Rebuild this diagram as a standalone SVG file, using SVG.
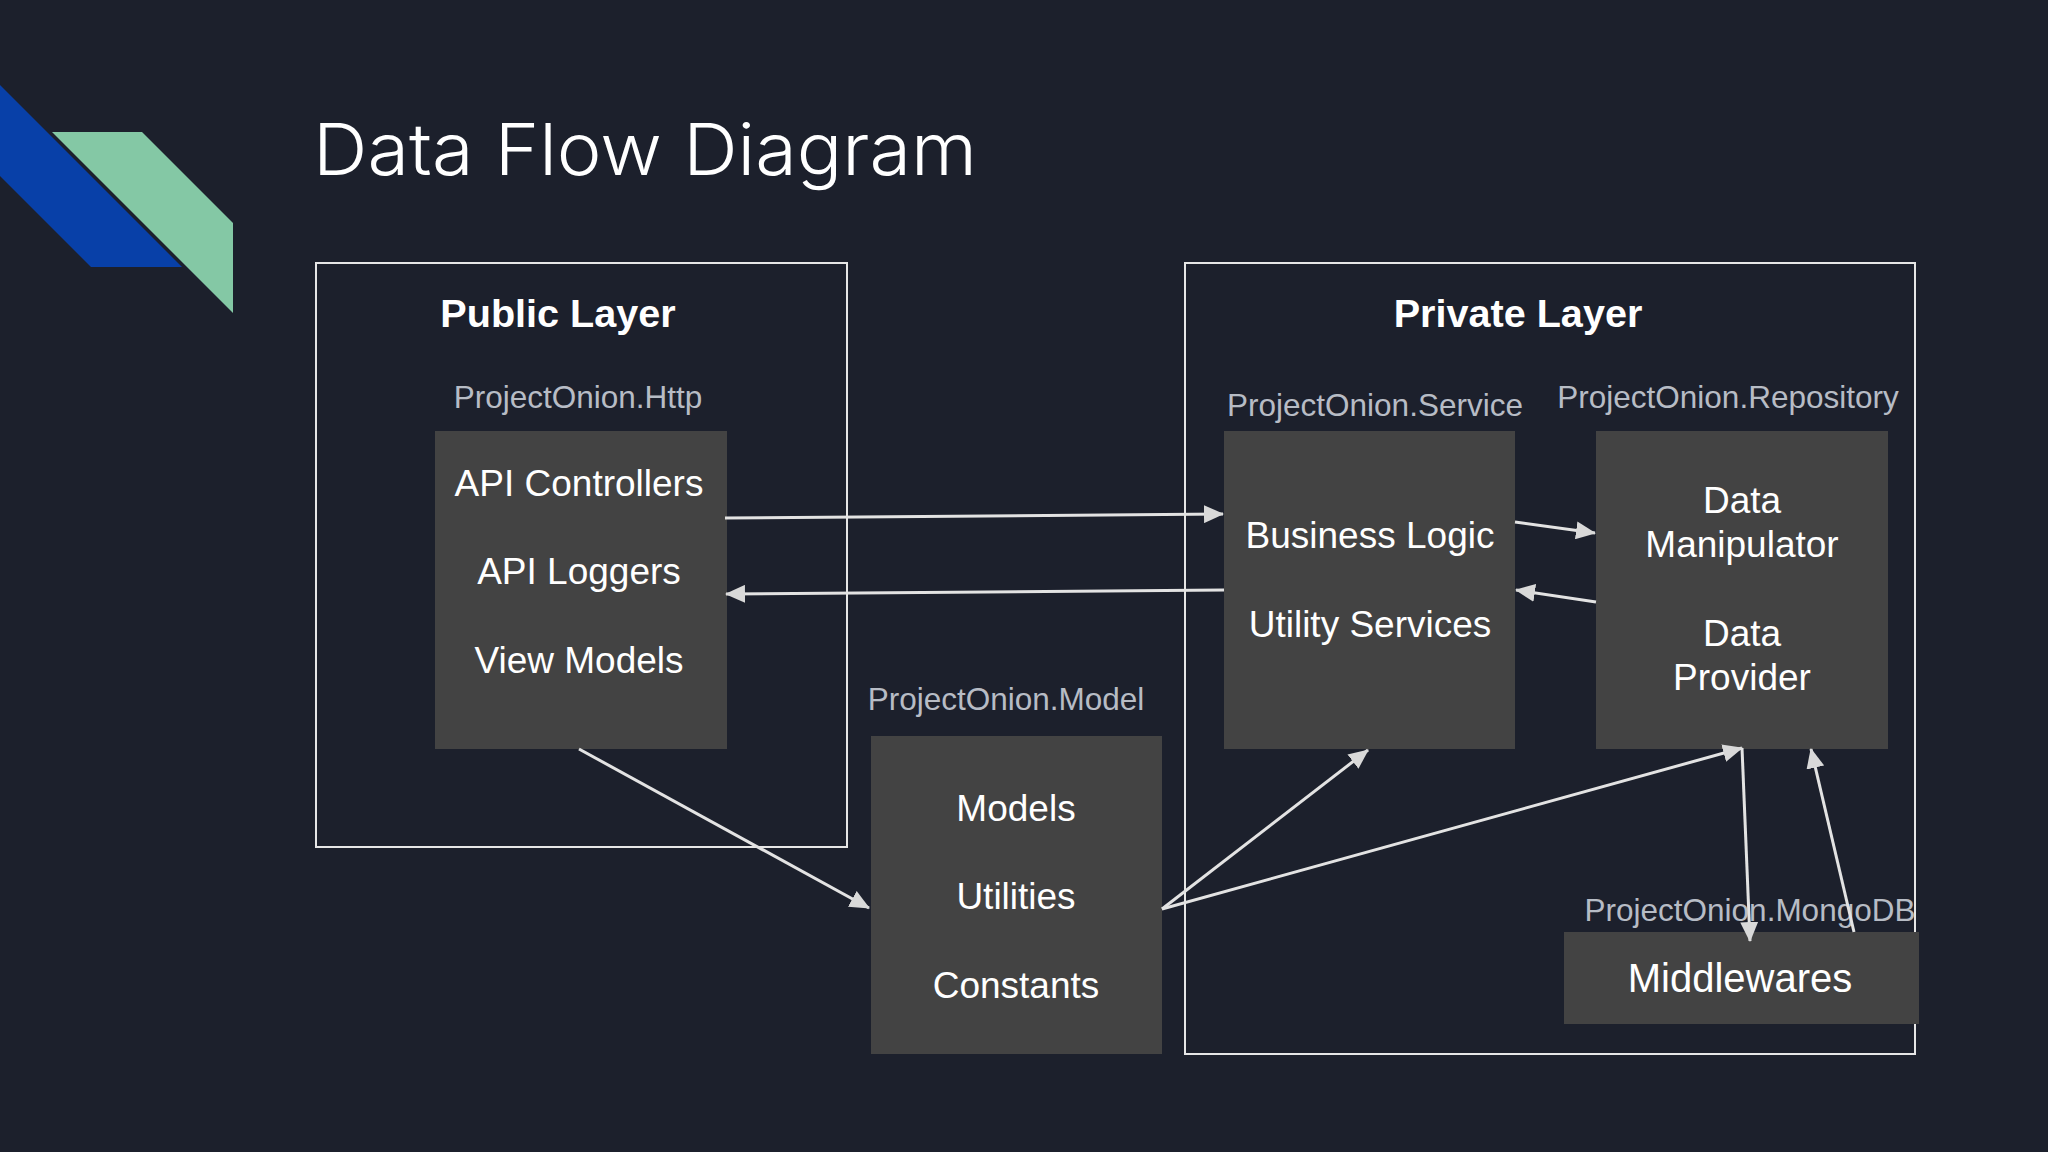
<svg xmlns="http://www.w3.org/2000/svg" width="2048" height="1152" viewBox="0 0 2048 1152">
<defs>
<marker id="ah" markerUnits="userSpaceOnUse" markerWidth="21" markerHeight="18" refX="19" refY="9" orient="auto"><path d="M0 0L20 9L0 18Z" fill="#d9d9d9"/></marker>
</defs>
<style>
text{font-family:"Liberation Sans",Arial,sans-serif;text-anchor:middle}
.layer{fill:none;stroke:#e6e6e6;stroke-width:2}
.box{fill:#434343}
.t{fill:#fff;font-size:37px}
.h{fill:#fff;font-size:39.6px;font-weight:bold}
.l{fill:#b7bcc5;font-size:31.5px}
.c{fill:none;stroke:#e3e3e3;stroke-width:3;marker-end:url(#ah)}
</style>
<rect width="2048" height="1152" fill="#1c202c"/>
<path d="M0 85L182 267H91L0 176Z" fill="#0840a8"/>
<path d="M52 132H142L233 223V313Z" fill="#84c8a5"/>
<text x="313" y="175" style="text-anchor:start;font-family:Inter,sans-serif;font-weight:300;font-size:72px;fill:#fff" textLength="664" lengthAdjust="spacingAndGlyphs">Data Flow Diagram</text>
<g id="public-layer"><rect class="layer" x="316" y="263" width="531" height="584"/><text class="h" x="558" y="327">Public Layer</text></g>
<g id="private-layer"><rect class="layer" x="1185" y="263" width="730" height="791"/><text class="h" x="1518" y="327">Private Layer</text></g>
<g id="http"><text class="l" x="578" y="408">ProjectOnion.Http</text><rect class="box" x="435" y="431" width="292" height="318"/><text class="t" x="579" y="496">API Controllers</text><text class="t" x="579" y="584">API Loggers</text><text class="t" x="579" y="673">View Models</text></g>
<g id="model"><text class="l" x="1006" y="710">ProjectOnion.Model</text><rect class="box" x="871" y="736" width="291" height="318"/><text class="t" x="1016" y="821">Models</text><text class="t" x="1016" y="909">Utilities</text><text class="t" x="1016" y="998">Constants</text></g>
<g id="service"><text class="l" x="1375" y="416">ProjectOnion.Service</text><rect class="box" x="1224" y="431" width="291" height="318"/><text class="t" x="1370" y="548">Business Logic</text><text class="t" x="1370" y="637">Utility Services</text></g>
<g id="repository"><text class="l" x="1728" y="408">ProjectOnion.Repository</text><rect class="box" x="1596" y="431" width="292" height="318"/><text class="t" x="1742" y="513">Data</text><text class="t" x="1742" y="557">Manipulator</text><text class="t" x="1742" y="646">Data</text><text class="t" x="1742" y="690">Provider</text></g>
<g id="mongodb"><rect class="box" x="1564" y="932" width="355" height="92"/><text class="l" x="1750" y="921">ProjectOnion.MongoDB</text><text x="1740" y="992" style="fill:#fff;font-size:40px">Middlewares</text></g>
<g id="connectors">
<path class="c" d="M725 518L1223 514"/>
<path class="c" d="M1224 590L726 594"/>
<path class="c" d="M1515 522L1595 533"/>
<path class="c" d="M1596 602L1516 590"/>
<path class="c" d="M579 749L869 908"/>
<path class="c" d="M1162 909L1368 750"/>
<path class="c" d="M1162 909L1742 748"/>
<path class="c" d="M1742 748L1750 941"/>
<path class="c" d="M1854 932L1811 749"/>
</g>
</svg>
